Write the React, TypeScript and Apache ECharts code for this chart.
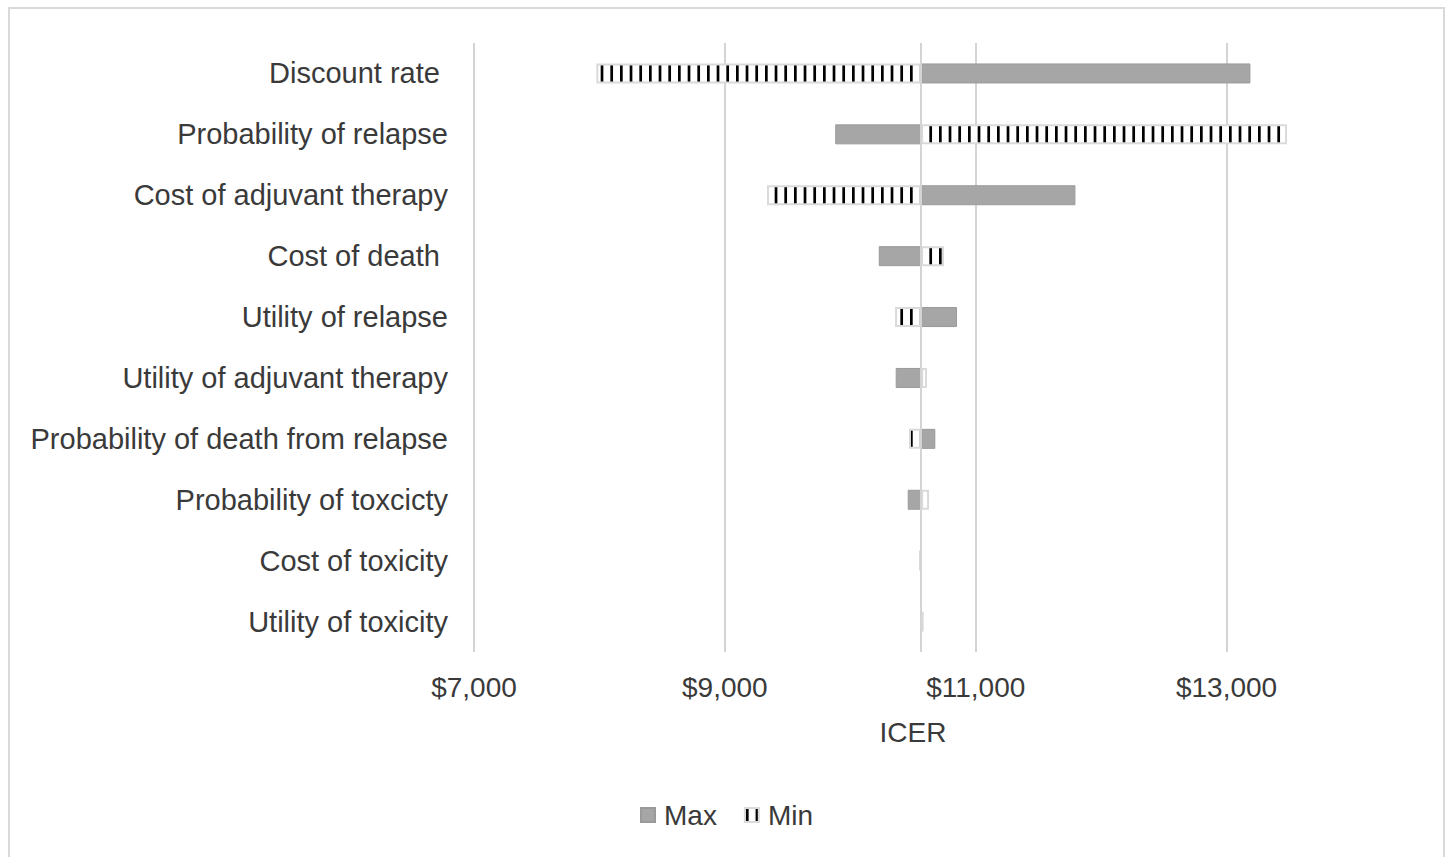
import React, { useEffect, useRef } from "react";
import * as echarts from "echarts";

const CATEGORIES = [
  "Discount rate\u00a0",
  "Probability of relapse",
  "Cost of adjuvant therapy",
  "Cost of death\u00a0",
  "Utility of relapse",
  "Utility of adjuvant therapy",
  "Probability of death from relapse",
  "Probability of toxcicty",
  "Cost of toxicity",
  "Utility of toxicity",
];

const BASE_ICER = 10565;

const MAX_VALUES = [13190, 9880, 11795, 10227, 10851, 10362, 10678, 10458, 10562, 10566];
const MIN_VALUES = [7975, 13482, 9336, 10747, 10357, 10612, 10468, 10628, 10548, 10585];

const TICK_VALUES = [7000, 9000, 11000, 13000];
const TICK_LABELS = ["$7,000", "$9,000", "$11,000", "$13,000"];

const X_MIN = 7000;
const X_MAX = 14000;

const FONT = "'Liberation Sans', Arial, sans-serif";
const TEXT_COLOR = "#3a3a3a";

function makeStripePattern(): string {
  const c = document.createElement("canvas");
  c.width = 29;
  c.height = 2;
  const ctx = c.getContext("2d")!;
  ctx.fillStyle = "#ffffff";
  ctx.fillRect(0, 0, 29, 2);
  ctx.fillStyle = "#000000";
  for (let i = 0; i < 3; i++) {
    ctx.fillRect(1 + i * (29 / 3), 0, 2.7, 2);
  }
  return c.toDataURL();
}

export default function App() {
  const ref = useRef<HTMLDivElement>(null);

  useEffect(() => {
    document.body.style.overflow = "hidden";
    const chart = echarts.init(ref.current!, undefined, { renderer: "svg" });
    const stripe = {
      image: makeStripePattern(),
      repeat: "repeat",
      imageWidth: 29,
      imageHeight: 2,
    };

    const maxOffset = MAX_VALUES.map((v) => Math.min(v, BASE_ICER));
    const maxLen = MAX_VALUES.map((v) => Math.abs(v - BASE_ICER));
    const minOffset = MIN_VALUES.map((v) => Math.min(v, BASE_ICER));
    const minLen = MIN_VALUES.map((v) => Math.abs(v - BASE_ICER));

    const invisible = {
      color: "rgba(0,0,0,0)",
      borderColor: "rgba(0,0,0,0)",
      borderWidth: 0,
    };

    chart.setOption({
      animation: false,
      backgroundColor: "#ffffff",
      textStyle: { fontFamily: FONT, color: TEXT_COLOR },
      grid: {
        left: 464,
        top: 34,
        width: 878,
        height: 609,
        containLabel: false,
        outerBoundsMode: "none",
      },
      legend: {
        data: ["Max", "Min"],
        left: "center",
        top: 787,
        icon: "rect",
        itemWidth: 14,
        itemHeight: 14,
        itemGap: 27,
        textStyle: {
          fontFamily: FONT,
          fontSize: 28,
          color: TEXT_COLOR,
          padding: [0, 0, 0, 4],
        },
      },
      xAxis: {
        type: "value",
        min: X_MIN,
        max: X_MAX,
        interval: 1000,
        name: "ICER",
        nameLocation: "middle",
        nameGap: 66,
        nameTextStyle: { fontFamily: FONT, fontSize: 28, color: TEXT_COLOR },
        axisLine: { show: false },
        axisTick: { show: false },
        axisLabel: {
          margin: 21,
          fontFamily: FONT,
          fontSize: 28,
          color: TEXT_COLOR,
          showMaxLabel: false,
          formatter: (v: number) => {
            const i = TICK_VALUES.indexOf(v);
            return i >= 0 ? TICK_LABELS[i] : "";
          },
        },
        splitLine: {
          show: true,
          lineStyle: { color: ["#d4d4d4", "rgba(0,0,0,0)"], width: 2 },
        },
      },
      yAxis: {
        type: "category",
        data: CATEGORIES,
        inverse: true,
        axisLine: { show: false },
        axisTick: { show: false },
        splitLine: { show: false },
        axisLabel: {
          margin: 26,
          fontFamily: FONT,
          fontSize: 29,
          color: TEXT_COLOR,
        },
      },
      series: [
        {
          name: "maxBase",
          type: "bar",
          stack: "max",
          barWidth: 20,
          barGap: "-100%",
          silent: true,
          itemStyle: invisible,
          data: maxOffset,
          markLine: {
            silent: true,
            symbol: "none",
            label: { show: false },
            lineStyle: { color: "#d4d4d4", width: 2, type: "solid" },
            data: [{ xAxis: BASE_ICER }],
          },
        },
        {
          name: "Max",
          type: "bar",
          stack: "max",
          barWidth: 20,
          barGap: "-100%",
          itemStyle: { color: "#a6a6a6", borderColor: "#9a9a9a", borderWidth: 1 },
          data: maxLen,
        },
        {
          name: "minBase",
          type: "bar",
          stack: "min",
          barWidth: 20,
          barGap: "-100%",
          silent: true,
          itemStyle: invisible,
          data: minOffset,
        },
        {
          name: "Min",
          type: "bar",
          stack: "min",
          barWidth: 20,
          barGap: "-100%",
          itemStyle: { color: stripe, borderColor: "#dadada", borderWidth: 2 },
          data: minLen,
        },
      ],
    } as any);

    return () => chart.dispose();
  }, []);

  return (
    <div
      style={{
        position: "absolute",
        left: 8,
        top: 7,
        width: 1437,
        height: 850,
        boxSizing: "border-box",
        border: "2px solid #d9d9d9",
        borderBottom: "none",
        background: "#ffffff",
      }}
    >
      <div ref={ref} style={{ width: 1433, height: 848 }} />
    </div>
  );
}
